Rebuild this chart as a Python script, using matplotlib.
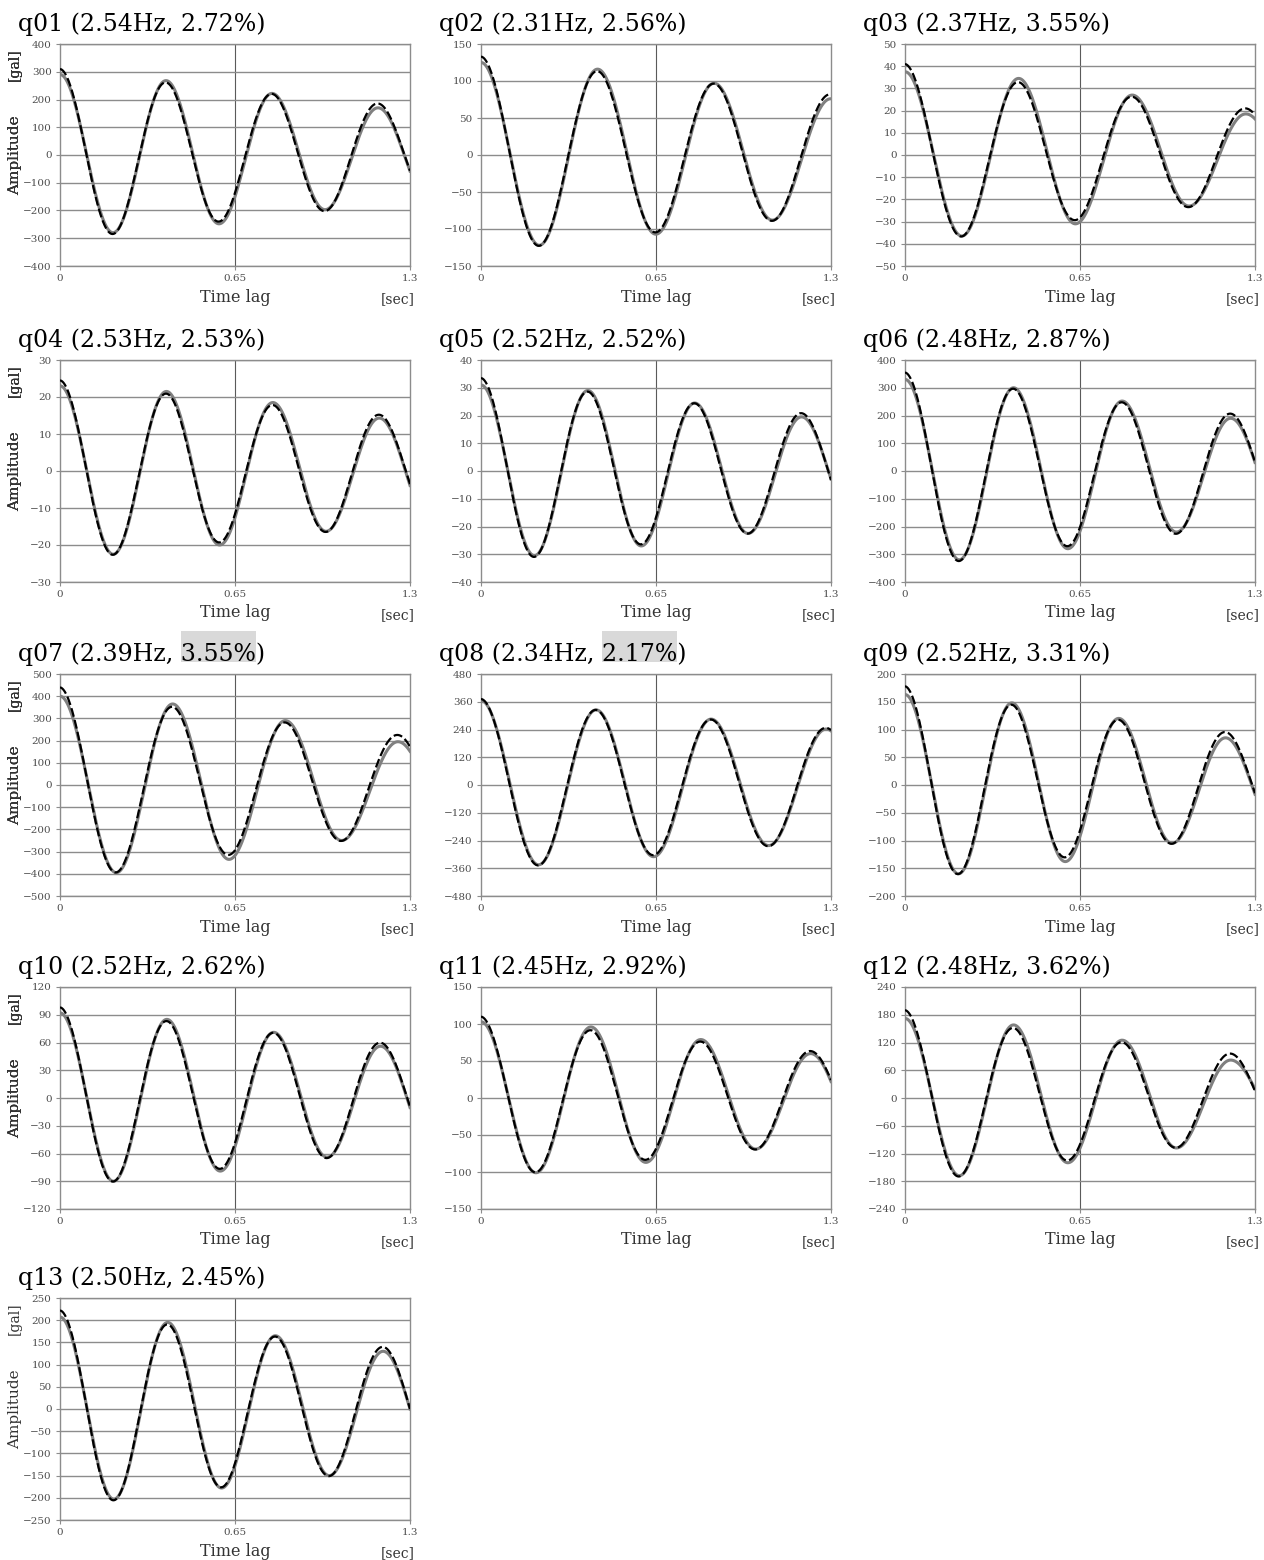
import numpy as np
import matplotlib.pyplot as plt
from matplotlib.patches import Rectangle

# record name, identified natural frequency [Hz] and damping ratio [%]
names = ['q01', 'q02', 'q03', 'q04', 'q05', 'q06', 'q07',
         'q08', 'q09', 'q10', 'q11', 'q12', 'q13']
freq = [2.54, 2.31, 2.37, 2.53, 2.52, 2.48, 2.39, 2.34, 2.52, 2.52, 2.45, 2.48, 2.50]
damp = [2.72, 2.56, 3.55, 2.53, 2.52, 2.87, 3.55, 2.17, 3.31, 2.62, 2.92, 3.62, 2.45]
marked = ['q07', 'q08']  # damping values shaded in the title

# axis range and tick step [gal]
ymax = [400, 150, 50, 30, 40, 400, 500, 480, 200, 120, 150, 240, 250]
ystep = [100, 50, 10, 10, 10, 100, 100, 120, 50, 30, 50, 60, 50]

# initial amplitude of the fitted free vibration [gal]
fit_amp = [310, 133, 41, 24.5, 33.5, 355, 440, 372, 178, 98, 110, 190, 222]

# measured RD signature: successive extrema, one every half period [gal]
extrema = [
    [290, -280, 268, -248, 222, -197, 170, -175],
    [125, -122, 116, -107, 97, -88, 76, -68],
    [37.5, -36.5, 34.5, -31, 27, -23, 18.5, -17],
    [23, -22.5, 21.5, -20, 18.5, -16.3, 14.3, -15],
    [31, -30.5, 29, -27, 24.5, -22.5, 19.5, -19],
    [330, -320, 300, -280, 252, -220, 190, -190],
    [400, -395, 365, -335, 290, -250, 195, -200],
    [365, -345, 325, -310, 285, -262, 242, -235],
    [163, -160, 148, -138, 120, -105, 85, -90],
    [92, -90, 85, -79, 71, -64, 56, -58],
    [103, -101, 96, -87, 79, -69, 60, -65],
    [172, -168, 158, -140, 125, -108, 82, -67],
    [207, -203, 195, -178, 165, -150, 130, -130],
]

W, H = 1264, 1560
col_left = [60, 481, 905]
row_top = [44, 360, 674, 987, 1298]
AW, AH = 350, 222
serif = 'DejaVu Serif'


def measured(t, f, vals):
    tk = np.arange(len(vals)) * 0.5 / f
    y = np.zeros_like(t)
    for k in range(len(vals) - 1):
        m = (t >= tk[k]) & (t <= tk[k + 1])
        ph = (t[m] - tk[k]) / (tk[k + 1] - tk[k])
        a, b = vals[k], vals[k + 1]
        y[m] = (a + b) / 2 + (a - b) / 2 * np.cos(np.pi * ph)
    return y


def fitted(t, f, h, a0):
    w = 2 * np.pi * f
    return a0 * np.exp(-h / 100 * w * t) * np.cos(w * t)


fig = plt.figure(figsize=(W / 100, H / 100), dpi=100)
renderer = fig.canvas.get_renderer()
t = np.linspace(0, 1.3, 800)

for i, nm in enumerate(names):
    r, c = divmod(i, 3)
    L, T = col_left[c], row_top[r]
    ax = fig.add_axes([L / W, 1 - (T + AH) / H, AW / W, AH / H])

    ax.plot(t, measured(t, freq[i], extrema[i]), color='#808080', lw=2.2, zorder=3)
    ax.plot(t, fitted(t, freq[i], damp[i], fit_amp[i]), color='black', lw=1.6,
            dashes=(4, 1.5), zorder=4)

    ax.set_xlim(0, 1.3)
    ax.set_ylim(-ymax[i], ymax[i])
    ax.set_xticks([0, 0.65, 1.3])
    ax.set_xticklabels(['0', '0.65', '1.3'])
    ax.set_yticks(np.arange(-ymax[i], ymax[i] + 1, ystep[i]))
    ax.grid(True, axis='y', color='#8c8c8c', lw=1.0)
    ax.axvline(0.65, color='#5a5a5a', lw=0.8, zorder=1)
    for s in ax.spines.values():
        s.set_color('#8c8c8c')
        s.set_linewidth(1.0)
    ax.tick_params(colors='#8c8c8c', length=3, width=0.8, labelsize=7.5,
                   labelcolor='#4d4d4d', pad=3)
    for lab in ax.get_xticklabels() + ax.get_yticklabels():
        lab.set_family(serif)

    # axis captions
    fig.text(15 / W, 1 - (T + AH / 2) / H, 'Amplitude', rotation=90, ha='center',
             va='center', family=serif, fontsize=11, color='#333333')
    fig.text(15 / W, 1 - (T + 21) / H, '[gal]', rotation=90, ha='center',
             va='center', family=serif, fontsize=10, color='#333333')
    fig.text((L + AW / 2) / W, 1 - (T + AH + 31) / H, 'Time lag', ha='center',
             va='center', family=serif, fontsize=11.5, color='#333333')
    fig.text((L + AW + 5) / W, 1 - (T + AH + 33) / H, '[sec]', ha='right',
             va='center', family=serif, fontsize=10, color='#333333')

    # title: name (frequency, damping)
    tx, ty = (L - 42) / W, 1 - (T - 13) / H
    head = f'{nm} ({freq[i]:.2f}Hz, '
    mid = f'{damp[i]:.2f}%'
    fig.text(tx, ty, head + mid + ')', family=serif, fontsize=17,
             va='baseline', color='black', zorder=5)
    if nm in marked:
        probe = fig.text(tx, ty, head, family=serif, fontsize=17, va='baseline')
        x0 = probe.get_window_extent(renderer).x1
        probe.set_text(head + mid)
        x1 = probe.get_window_extent(renderer).x1
        probe.remove()
        fig.patches.append(Rectangle((x0 / W, 1 - (T - 12) / H), (x1 - x0) / W,
                                     31 / H, transform=fig.transFigure,
                                     facecolor='#d9d9d9', edgecolor='none',
                                     zorder=1))

fig.savefig('out.png', dpi=100, facecolor='white')
